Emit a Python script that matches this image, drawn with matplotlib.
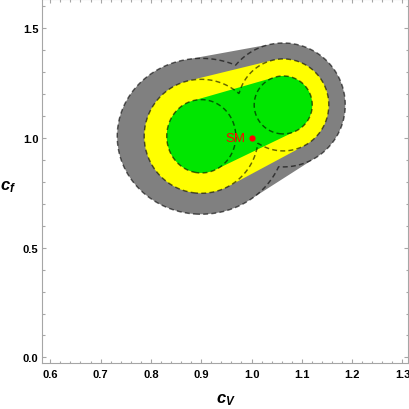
import numpy as np
import matplotlib
matplotlib.use('Agg')
import matplotlib.pyplot as plt
from matplotlib.ticker import MultipleLocator, FixedLocator, FixedFormatter

# ---- data ----
center_x = [0.900, 1.063]        # centres of the two solutions (c_V)
center_y = [1.008, 1.151]        # (c_f)
# semi-axes of each contour level (1, 2, 3 sigma) for the two solutions
radius_x_left = [0.0686, 0.1133, 0.1670]
radius_y_left = [0.1672, 0.2597, 0.3554]
radius_x_right = [0.0577, 0.0905, 0.1233]
radius_y_right = [0.1321, 0.2096, 0.2825]
level_names = ['1sigma', '2sigma', '3sigma']
fill_colors = ['#00e600', '#ffff00', '#808080']
sm_x = [1.0]
sm_y = [1.0]
sm_label = 'SM'
x_ticks = [0.6, 0.7, 0.8, 0.9, 1.0, 1.1, 1.2, 1.3]
x_labels = ['0.6', '0.7', '0.8', '0.9', '1.0', '1.1', '1.2', '1.3']
y_ticks = [0.0, 0.5, 1.0, 1.5]
y_labels = ['0.0', '0.5', '1.0', '1.5']

plt.rcParams['font.family'] = ['Liberation Sans', 'DejaVu Sans']
plt.rcParams['mathtext.fontset'] = 'custom'
plt.rcParams['mathtext.it'] = 'Liberation Sans:italic:bold'
plt.rcParams['mathtext.rm'] = 'Liberation Sans:bold'
plt.rcParams['mathtext.bf'] = 'Liberation Sans:bold'


def convex_hull(pts):
    pts = sorted(map(tuple, pts))
    def cross(o, a, b):
        return (a[0]-o[0])*(b[1]-o[1]) - (a[1]-o[1])*(b[0]-o[0])
    lower = []
    for p in pts:
        while len(lower) >= 2 and cross(lower[-2], lower[-1], p) <= 0:
            lower.pop()
        lower.append(p)
    upper = []
    for p in reversed(pts):
        while len(upper) >= 2 and cross(upper[-2], upper[-1], p) <= 0:
            upper.pop()
        upper.append(p)
    return np.array(lower[:-1] + upper[:-1])


W, H = 409, 410
fig = plt.figure(figsize=(W/100, H/100), dpi=100)
ax = fig.add_axes([42/W, (H-364.3)/H, (408-42)/W, 364.3/H])

radii_x = [radius_x_left, radius_x_right]
radii_y = [radius_y_left, radius_y_right]

t = np.linspace(0, 2*np.pi, 400)
gx = np.linspace(0.55, 1.35, 700)
gy = np.linspace(0.4, 1.7, 700)
X, Y = np.meshgrid(gx, gy)

# filled regions (hull of the two solutions at each level), largest first
for k in reversed(range(len(level_names))):
    pts = []
    for i in range(2):
        pts.append(np.column_stack([center_x[i] + radii_x[i][k]*np.cos(t),
                                    center_y[i] + radii_y[i][k]*np.sin(t)]))
    hull = convex_hull(np.vstack(pts))
    ax.fill(hull[:, 0], hull[:, 1], color=fill_colors[k], lw=0, zorder=1)

# dashed contours: union of the two solutions at each level
for k in range(len(level_names)):
    f = np.min([((X-center_x[i])/radii_x[i][k])**2 + ((Y-center_y[i])/radii_y[i][k])**2
                for i in range(2)], axis=0)
    ax.contour(X, Y, f, levels=[1.0], colors='k', alpha=0.6,
               linewidths=1.05, linestyles=[(0, (3.4, 2.2))], zorder=2)

ax.plot(sm_x, sm_y, 'o', color='#ff0000', ms=4.5, mec='none', zorder=3)
ax.text(sm_x[0]-0.013, sm_y[0], sm_label, color='#ff0000', fontsize=9.5,
        fontweight='normal', ha='right', va='center', zorder=3)

ax.set_xlim(0.5835, 1.311)
ax.set_ylim(-0.027, 1.634)

ax.xaxis.set_major_locator(FixedLocator(x_ticks))
ax.xaxis.set_major_formatter(FixedFormatter(x_labels))
ax.yaxis.set_major_locator(FixedLocator(y_ticks))
ax.yaxis.set_major_formatter(FixedFormatter(y_labels))
ax.xaxis.set_minor_locator(MultipleLocator(0.02))
ax.yaxis.set_minor_locator(MultipleLocator(0.1))

for s in ax.spines.values():
    s.set_color('#a6a6a6')
    s.set_linewidth(0.8)
ax.tick_params(which='both', direction='in', top=True, right=True,
               color='#a6a6a6', width=0.8)
ax.tick_params(which='major', length=3.0)
ax.tick_params(which='minor', length=1.8)
ax.tick_params(axis='x', which='major', pad=4.0, labelsize=8)
ax.tick_params(axis='y', which='major', pad=2.6, labelsize=8)
for lab in ax.get_xticklabels() + ax.get_yticklabels():
    lab.set_fontweight('bold')

fig.text(226/W, 1-400/H, r'$c_V$', fontsize=12, ha='center', va='center')
fig.text(8/W, 1-187/H, r'$c_f$', fontsize=12, ha='center', va='center')

fig.savefig('out.png', dpi=100)
